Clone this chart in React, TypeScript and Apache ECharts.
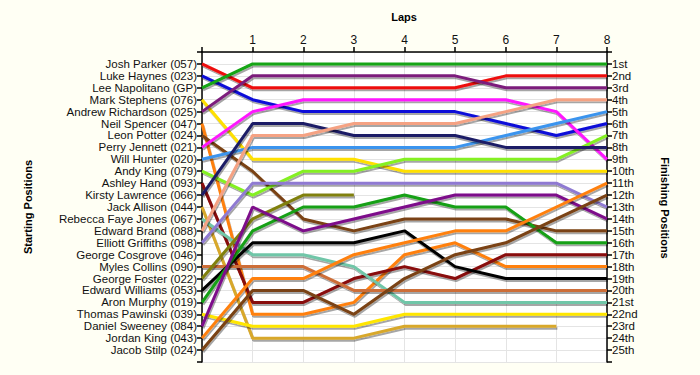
import React, { useEffect, useRef } from "react";
import * as echarts from "echarts";

const drivers = [
  "Josh Parker (057)", "Luke Haynes (023)", "Lee Napolitano (GP)", "Mark Stephens (076)",
  "Andrew Richardson (025)", "Neil Spencer (047)", "Leon Potter (024)", "Perry Jennett (021)",
  "Will Hunter (020)", "Andy King (079)", "Ashley Hand (093)", "Kirsty Lawrence (066)",
  "Jack Allison (044)", "Rebecca Faye Jones (067)", "Edward Brand (088)", "Elliott Griffiths (098)",
  "George Cosgrove (046)", "Myles Collins (090)", "George Foster (022)", "Edward Williams (053)",
  "Aron Murphy (019)", "Thomas Pawinski (039)", "Daniel Sweeney (084)", "Jordan King (043)",
  "Jacob Stilp (024)",
];

const finishLabels = [
  "1st", "2nd", "3rd", "4th", "5th", "6th", "7th", "8th", "9th", "10th", "11th", "12th", "13th",
  "14th", "15th", "16th", "17th", "18th", "19th", "20th", "21st", "22nd", "23rd", "24th", "25th",
];

const lapLabels = ["", "1", "2", "3", "4", "5", "6", "7", "8"];

// positions per lap (lap 0 = start .. lap 8)
const positions: number[][] = [
  [1, 3, 3, 3, 3, 3, 2, 2, 2],          // Josh Parker
  [2, 4, 5, 5, 5, 5, 6, 7, 6],          // Luke Haynes
  [3, 1, 1, 1, 1, 1, 1, 1, 1],          // Lee Napolitano
  [4, 9, 9, 9, 10, 10, 10, 10, 10],     // Mark Stephens
  [5, 2, 2, 2, 2, 2, 3, 3, 3],          // Andrew Richardson
  [6, 22, 22, 21, 17, 16, 18, 18, 18],  // Neil Spencer
  [7, 10, 14, 15, 14, 14, 14, 15, 15],  // Leon Potter
  [8, 5, 4, 4, 4, 4, 4, 5, 9],          // Perry Jennett
  [9, 8, 8, 8, 8, 8, 7, 6, 5],          // Will Hunter
  [10, 12, 10, 10, 9, 9, 9, 9, 7],      // Andy King
  [11, 21, 21, 19, 18, 19, 17, 17, 17], // Ashley Hand
  [12, 6, 6, 7, 7, 7, 8, 8, 8],         // Kirsty Lawrence
  [13, 24, 24, 24, 23, 23, 23, 23],     // Jack Allison
  [14, 17, 17, 18, 21, 21, 21, 21, 21], // Rebecca Faye Jones
  [15, 7, 7, 6, 6, 6, 5, 4, 4],         // Edward Brand
  [16, 11, 11, 11, 11, 11, 11, 11, 13], // Elliott Griffiths
  [],                                   // George Cosgrove
  [18, 18, 18, 20, 20, 20, 20, 20, 20], // Myles Collins
  [19, 14, 12, 12],                     // George Foster
  [20, 16, 16, 16, 15, 18, 19, 19, 19], // Edward Williams
  [21, 15, 13, 13, 12, 13, 13, 16, 16], // Aron Murphy
  [22, 23, 23, 23, 22, 22, 22, 22, 22], // Thomas Pawinski
  [23, 13, 15, 14, 13, 12, 12, 12, 14], // Daniel Sweeney
  [24, 19, 19, 17, 16, 15, 15, 13, 11], // Jordan King
  [25, 20, 20, 22, 19, 17, 16, 14, 12], // Jacob Stilp
];

const colors = [
  "#ee0a0a", "#0a0ad8", "#12a512", "#ffe000", "#7c1d7c", "#ff800e", "#7a4212", "#ff14ff",
  "#3b94ee", "#84f020", "#880808", "#1f1f66", "#d8a82c", "#70c6a8", "#f5a283", "#8f7ad2",
  "#cccccc", "#cd6e38", "#808010", "#000000", "#14a014", "#ffe600", "#7d0a8a", "#ff800e",
  "#7a4212",
];

const FONT = "'Liberation Sans', Arial, sans-serif";

export default function App() {
  const ref = useRef<HTMLDivElement>(null);
  useEffect(() => {
    document.body.style.margin = "0";
    document.body.style.background = "#fffff4";
    if (!ref.current) return;
    const chart = echarts.init(ref.current, null, { renderer: "svg" });
    const series = positions.map((p, i) => ({
      type: "line",
      name: drivers[i],
      data: p.map((v, lap) => [lap, v]),
      xAxisIndex: 0,
      yAxisIndex: 0,
      symbol: "none",
      silent: true,
      lineStyle: {
        color: colors[i],
        width: 3,
        shadowColor: "rgba(0,0,0,0.35)",
        shadowBlur: 1,
        shadowOffsetX: 1,
        shadowOffsetY: 2,
      },
    }));
    const gridLine = { show: true, lineStyle: { color: "#e4e4e4", width: 1 } };
    chart.setOption({
      animation: false,
      backgroundColor: "#fffff4",
      textStyle: { fontFamily: FONT },
      grid: {
        left: 202, right: 93, top: 52, bottom: 13,
        show: true, backgroundColor: "#ffffff", borderWidth: 0,
      },
      xAxis: {
        type: "value", position: "top", min: 0, max: 8, interval: 1,
        axisLine: { show: true, lineStyle: { color: "#000", width: 1.5 } },
        axisTick: { show: true, length: 5, lineStyle: { color: "#000", width: 1.5 } },
        axisLabel: {
          formatter: (v: number) => lapLabels[v] ?? "",
          color: "#111", fontSize: 12, fontFamily: FONT, margin: 6,
        },
        splitLine: gridLine,
      },
      yAxis: [
        {
          type: "value", position: "left", inverse: true, min: 0, max: 26, interval: 1,
          axisLine: { show: true, lineStyle: { color: "#000", width: 1.5 } },
          axisTick: { show: true, length: 5, lineStyle: { color: "#000", width: 1.5 } },
          axisLabel: {
            formatter: (v: number) => drivers[v - 1] ?? "",
            color: "#111", fontSize: 11.5, fontFamily: FONT, margin: 5,
          },
          splitLine: gridLine,
        },
        {
          type: "value", position: "right", inverse: true, min: 0, max: 26, interval: 1,
          axisLine: { show: true, lineStyle: { color: "#000", width: 1.5 } },
          axisTick: { show: true, length: 5, lineStyle: { color: "#000", width: 1.5 } },
          axisLabel: {
            formatter: (v: number) => finishLabels[v - 1] ?? "",
            color: "#111", fontSize: 11.5, fontFamily: FONT, margin: 5,
          },
          splitLine: { show: false },
        },
      ],
      graphic: [
        {
          type: "text", x: 404, y: 17,
          style: { text: "Laps", font: `bold 11px ${FONT}`, fill: "#000", align: "center", verticalAlign: "middle" },
        },
        {
          type: "text", x: 28, y: 207, rotation: Math.PI / 2,
          style: { text: "Starting Positions", font: `bold 11px ${FONT}`, fill: "#000", align: "center", verticalAlign: "middle" },
        },
        {
          type: "text", x: 665, y: 208, rotation: -Math.PI / 2,
          style: { text: "Finishing Positions", font: `bold 11px ${FONT}`, fill: "#000", align: "center", verticalAlign: "middle" },
        },
      ],
      series,
    });
    return () => chart.dispose();
  }, []);
  return <div ref={ref} style={{ width: 700, height: 375 }} />;
}
